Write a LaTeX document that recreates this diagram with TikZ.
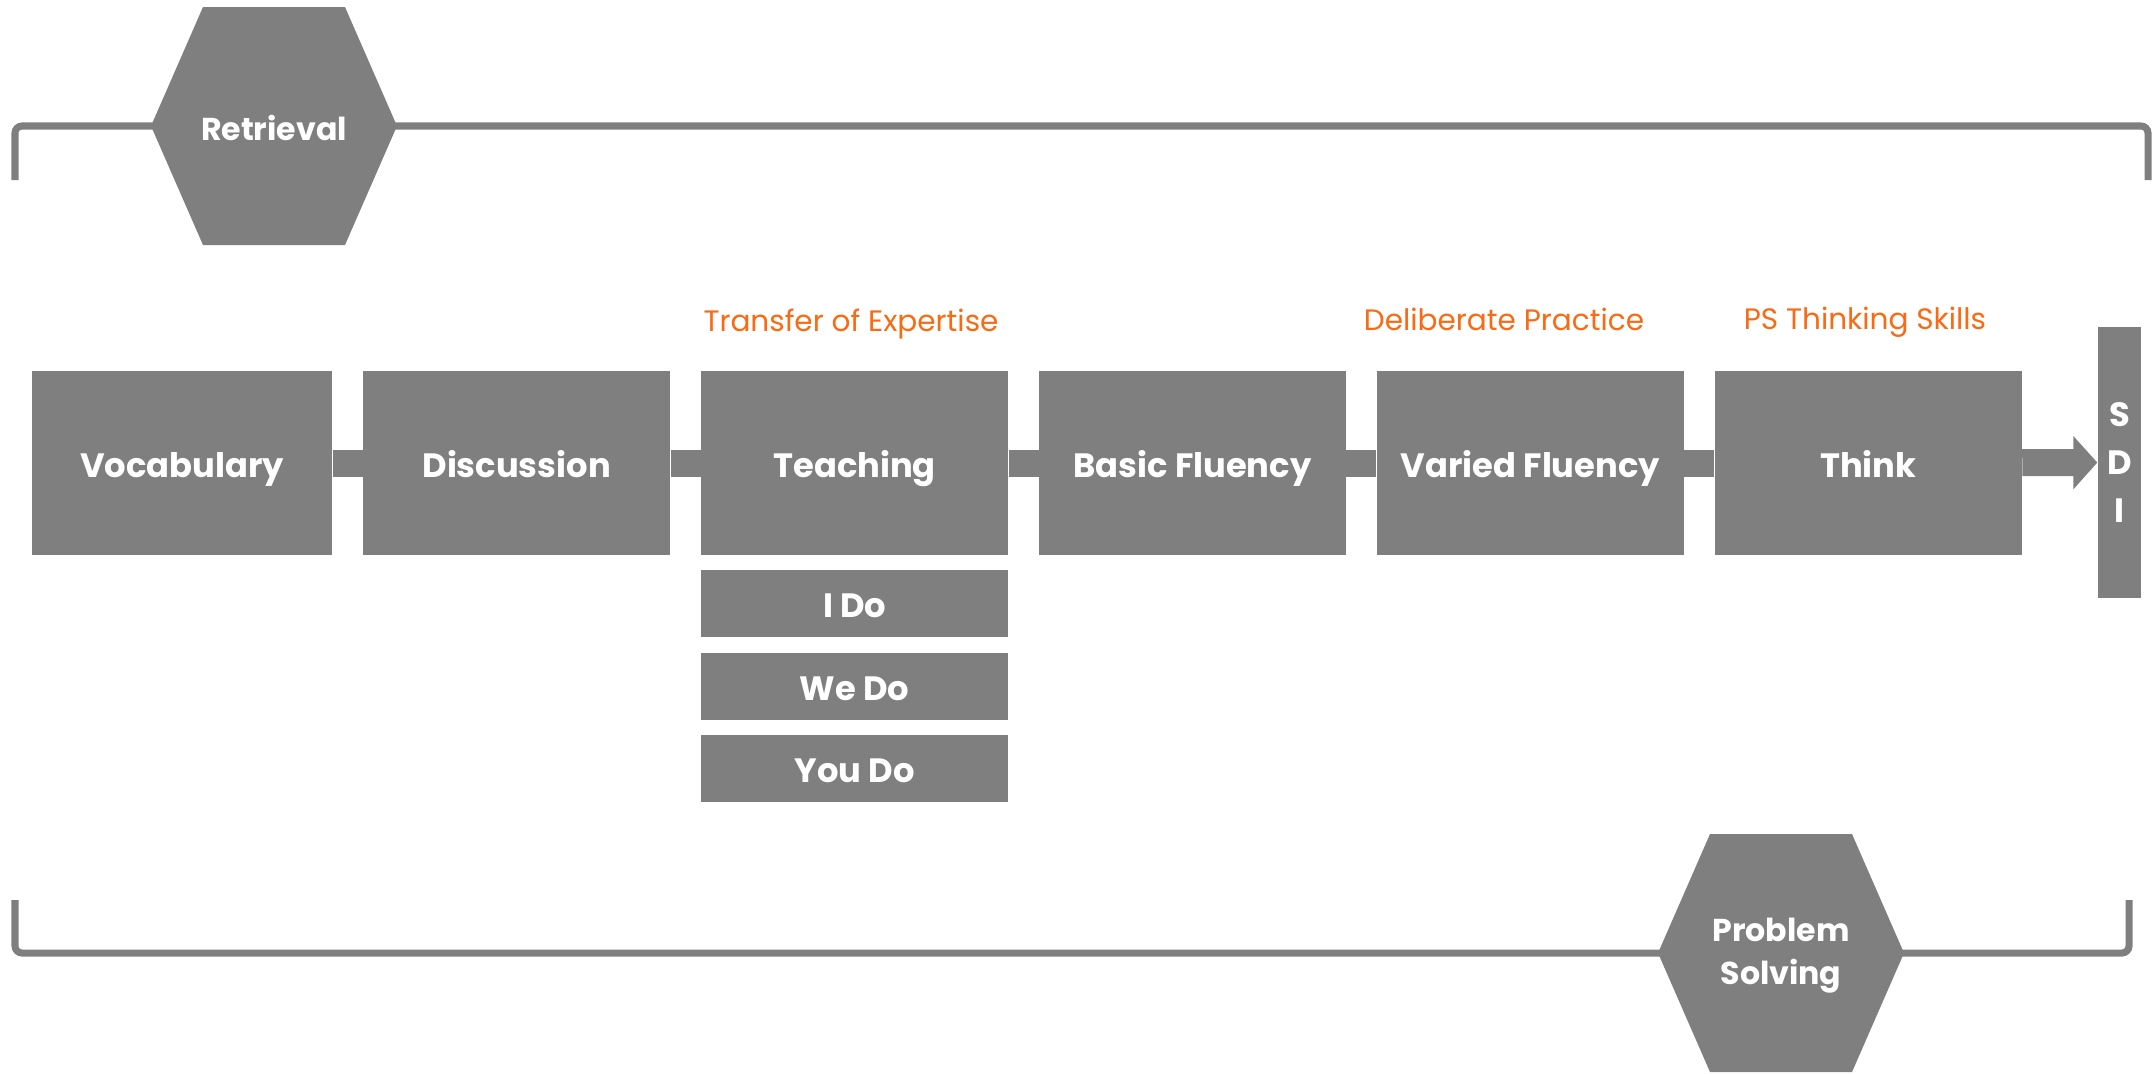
\documentclass[tikz,border=0pt]{standalone}
\usepackage{fontspec}
\setmainfont{Poppins}
\usepackage{xcolor}
\definecolor{StepGray}{RGB}{127,127,127}
\definecolor{StepOrange}{RGB}{250,106,18}
\usepackage{tikz}
\usetikzlibrary{positioning,arrows.meta}

\tikzset{
	graybox/.style={fill=StepGray, text=white, inner sep=0pt,
		minimum width=3.065cm, minimum height=1.84cm,
		font=\bfseries\fontsize{9.6}{12}\selectfont},
	stepbox/.style={graybox, text height=9pt, text depth=1pt},
	subbox/.style={stepbox, minimum height=0.67cm},
	phase/.style={text=StepOrange, anchor=base, inner sep=0pt,
		font=\fontsize{8.4}{10}\selectfont},
	hexlabel/.style={text=white, align=center, inner sep=0pt,
		font=\bfseries\fontsize{9}{12.2}\selectfont},
	bracket/.style={draw=StepGray, line width=2pt, rounded corners=2pt},
	link/.style={StepGray, line width=0.27cm},
}
\newcommand{\hexpatch}[2]{\fill[StepGray] (#1-1.23,#2) -- ++(0.52,1.19) -- ++(1.42,0) -- ++(0.52,-1.19) -- ++(-0.52,-1.19) -- ++(-1.42,0) -- cycle;}

\begin{document}
\begin{tikzpicture}
	\useasboundingbox (0,0) rectangle (21.56,-10.73);
	% brackets
	\coordinate (tl) at (0.15,-1.80);
	\coordinate (tr) at (21.48,-1.80);
	\coordinate (bl) at (0.15,-9.00);
	\coordinate (br) at (21.29,-9.00);
	\draw[bracket] (tl) -- ++(0,0.54) -| (tr);
	\draw[bracket] (bl) -- ++(0,-0.53) -| (br);
	% hexagons
	\hexpatch{2.74}{-1.26}
	\hexpatch{17.81}{-9.53}
	\node[hexlabel] (retrieval) at (2.74,-1.28) {Retrieval};
	\node[hexlabel] (problem) at (17.81,-9.56) {Problem\\Solving};
	% steps
	\node[stepbox, minimum width=3.00cm] (vocab) at (1.82,-4.63) {Vocabulary};
	\node[stepbox, right=0.30cm of vocab] (discuss) {Discussion};
	\node[stepbox, right=0.30cm of discuss] (teach) {Teaching};
	\node[stepbox, right=0.30cm of teach] (basic) {Basic Fluency};
	\node[stepbox, right=0.30cm of basic] (varied) {Varied Fluency};
	\node[stepbox, right=0.30cm of varied] (think) {Think};
	\node[graybox, minimum width=0.43cm, minimum height=2.71cm, align=center,
		font=\bfseries\fontsize{9.6}{13.7}\selectfont] (sdi) at (21.195,-4.625) {S\\D\\I};
	\node[subbox, below=0.14cm of teach] (ido) {I Do};
	\node[subbox, below=0.14cm of ido] (wedo) {We Do};
	\node[subbox, below=0.14cm of wedo] (youdo) {You Do};
	% phases
	\node[phase] (transfer) at (8.51,-3.31) {Transfer of Expertise};
	\node[phase] (deliberate) at (15.04,-3.30) {Deliberate Practice};
	\node[phase] (psthink) at (18.65,-3.29) {PS Thinking Skills};
	% links
	\foreach \a/\b in {vocab/discuss, discuss/teach, teach/basic, basic/varied, varied/think}
		\draw[link] (\a) -- (\b);
	\draw[link, -{Triangle[length=0.24cm, width=0.52cm]}] (think) -- (sdi);
\end{tikzpicture}
\end{document}
